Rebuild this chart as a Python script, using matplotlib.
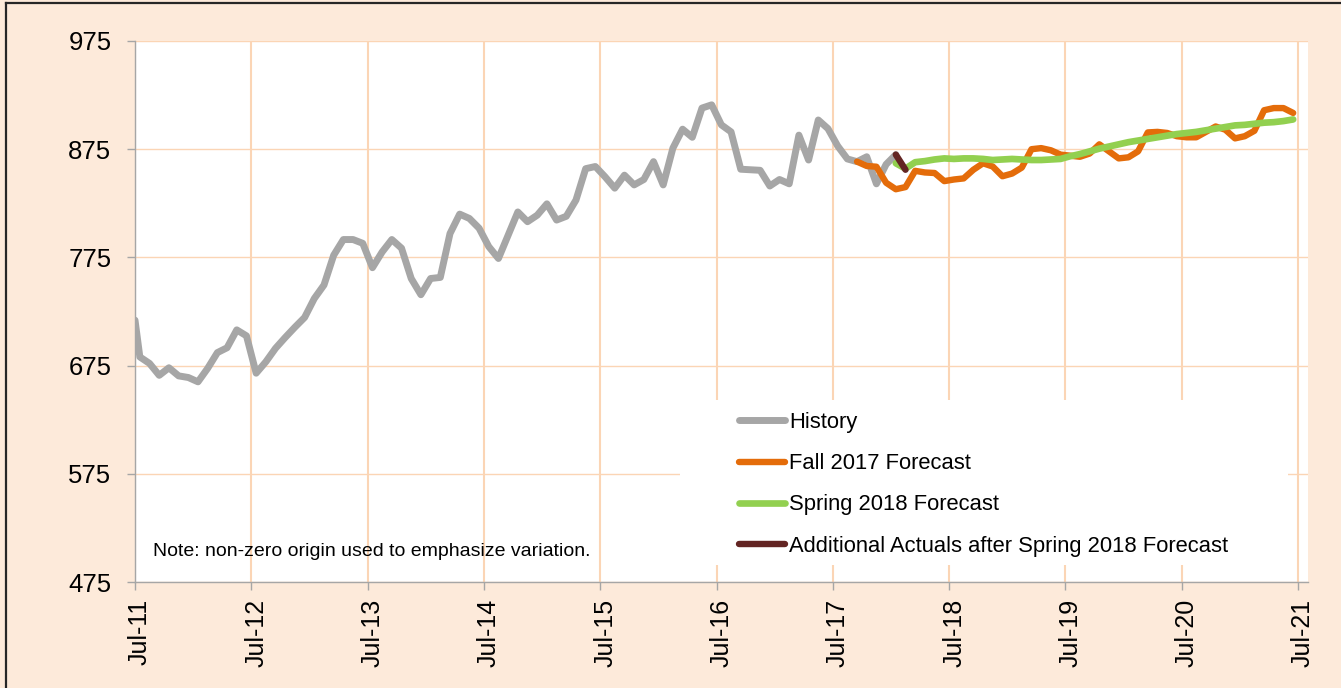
import matplotlib
matplotlib.use("Agg")
import matplotlib.pyplot as plt
import matplotlib.transforms as mtransforms
from matplotlib.lines import Line2D
from matplotlib.patches import Rectangle

plt.rcParams['font.family'] = ['Liberation Sans', 'DejaVu Sans']

# ---- data (x = months since Jul-2011) ----
tick_months = [0, 12, 24, 36, 48, 60, 72, 84, 96, 108, 120]
tick_labels = ["Jul-11", "Jul-12", "Jul-13", "Jul-14", "Jul-15", "Jul-16",
               "Jul-17", "Jul-18", "Jul-19", "Jul-20", "Jul-21"]

history_x = [0] + [i + 0.5 for i in range(79)]
history = [717, 683, 677, 666, 673, 665.5, 664, 660, 672.5, 687,
           691.5, 708, 702.5, 668, 678.5, 691, 701, 710.5, 719.5, 737,
           749.5, 777, 791.5, 791.5, 788, 765.5, 780, 791.5, 783.5, 755.5,
           740.5, 755.5, 756.5, 797, 815, 811, 802, 785, 774, 795.5,
           817, 808, 814, 824.5, 809.5, 813, 828, 857, 859, 849.5,
           839, 851, 842, 847, 863.5, 842, 876, 893.5, 886, 913,
           916, 897.5, 891, 856.5, 856, 855.5, 841, 847, 843, 888,
           865, 902, 894, 878, 866, 863.5, 868, 843, 861, 870]

fall2017_x = [i + 0.5 for i in range(74, 120)]
fall2017 = [863.5, 859.5, 858.8, 844, 838, 840, 855, 853.5, 853, 845.5,
            847, 848, 856, 862, 859, 850, 852.5, 858, 875, 876,
            874, 870, 869, 868, 871, 879.5, 873, 866.5, 867.5, 873,
            890.5, 891, 890, 887, 886, 886, 891, 896, 893, 885,
            887, 892, 911, 913, 913, 908.5]

spring2018_x = [i + 0.5 for i in range(78, 120)]
spring2018 = [862, 857, 863, 864, 865.5, 866.5, 866, 866.5, 866.5, 866,
              865, 865.5, 866, 865.5, 865, 865, 865.5, 866, 868.5, 870.5,
              873, 875.5, 877.5, 879.5, 881.5, 883, 884.5, 886, 887.5, 889,
              890, 891, 892.5, 894, 895.5, 897, 897.5, 898.5, 899.5, 900,
              901, 902.5]

additional_x = [78.5, 79.5]
additional = [870, 856]

y_ticks = [475, 575, 675, 775, 875, 975]

# ---- figure ----
W, H = 1341, 688
fig = plt.figure(figsize=(W / 100, H / 100), dpi=100)
fig.patch.set_facecolor('#FDEADA')

L, R, T, B = 135, 1308, 41, 582
ax = fig.add_axes([L / W, 1 - B / H, (R - L) / W, (B - T) / H])
ax.set_facecolor('white')
ax.set_axisbelow(True)

grid_c = '#FBD5B5'
ax.set_xlim(0, 121.03)
ax.set_ylim(475, 975)
ax.set_xticks(tick_months)
ax.set_xticklabels(tick_labels, rotation=90, fontsize=18)
ax.set_yticks(y_ticks)
ax.set_yticklabels([str(v) for v in y_ticks], fontsize=18.5)
ax.xaxis.grid(True, color=grid_c, lw=1.5)
ax.yaxis.grid(True, color=grid_c, lw=1.0)

for s in ['top', 'right']:
    ax.spines[s].set_visible(False)
for s in ['left', 'bottom']:
    ax.spines[s].set_color('#A6A6A6')
    ax.spines[s].set_linewidth(1.0)
ax.tick_params(axis='both', colors='#A6A6A6', length=6, width=1.0,
               labelcolor='black')
ax.tick_params(axis='y', pad=11)
ax.tick_params(axis='x', pad=6)

offset = mtransforms.ScaledTranslation(5 / 100, 0, fig.dpi_scale_trans)
for lab in ax.get_xticklabels():
    lab.set_transform(lab.get_transform() + offset)

# legend background box
lx0, lx1, ly0, ly1 = 680, 1288, 400, 565
ax.add_patch(Rectangle(((lx0 - L) / (R - L), (B - ly1) / (B - T)),
                       (lx1 - lx0) / (R - L), (ly1 - ly0) / (B - T),
                       transform=ax.transAxes, facecolor='white',
                       edgecolor='none', zorder=1))

kw = dict(solid_capstyle='round', solid_joinstyle='round')
ax.plot(history_x, history, color='#A6A6A6', lw=5.0, label='History', zorder=3, **kw)
ax.plot(fall2017_x, fall2017, color='#E46C0A', lw=4.6, label='Fall 2017 Forecast', zorder=4, **kw)
ax.plot(spring2018_x, spring2018, color='#92D050', lw=4.8, label='Spring 2018 Forecast', zorder=5, **kw)
ax.plot(additional_x, additional, color='#632523', lw=4.6,
        label='Additional Actuals after Spring 2018 Forecast', zorder=6, **kw)

leg = ax.legend(loc='upper left', bbox_to_anchor=(739 / W, 1 - 412 / H),
                bbox_transform=fig.transFigure, frameon=False,
                fontsize=15.8, borderpad=0, borderaxespad=0,
                handlelength=2.1, handletextpad=0.2, labelspacing=0.92)

ax.text(153, 551, "Note: non-zero origin used to emphasize variation.",
        transform=mtransforms.IdentityTransform() + mtransforms.Affine2D().scale(1, -1).translate(0, H),
        fontsize=14, va='center', ha='left')

# chart border (top and left)
fig.add_artist(Line2D([5.5 / W, 1], [1 - 2.7 / H, 1 - 2.7 / H], transform=fig.transFigure,
                      color='#262626', lw=1.6))
fig.add_artist(Line2D([5.5 / W, 5.5 / W], [0, 1 - 2.7 / H], transform=fig.transFigure,
                      color='#262626', lw=1.6))

fig.savefig('out.png', dpi=100, facecolor=fig.get_facecolor())
